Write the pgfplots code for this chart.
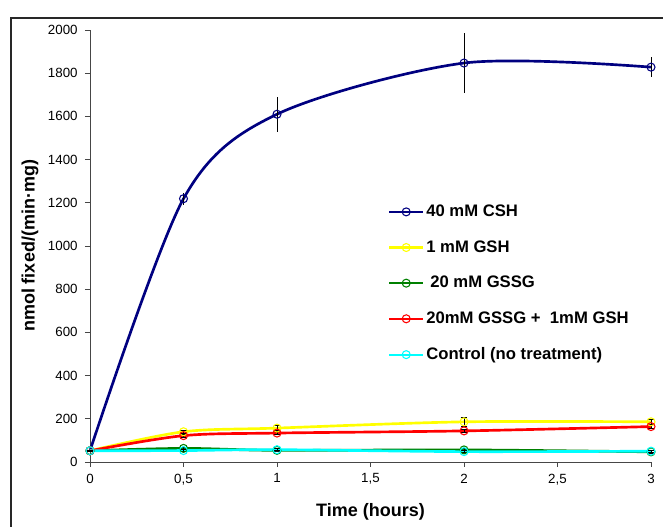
\documentclass[border=0pt]{standalone}
\usepackage{fontspec}
\setmainfont{Liberation Sans}
\usepackage{pgfplots}
\usepackage{pgfplotstable}
\pgfplotsset{compat=1.18}

\definecolor{cshblue}{RGB}{0,0,128}
\definecolor{gshyellow}{RGB}{255,255,0}
\definecolor{gssggreen}{RGB}{0,128,0}
\definecolor{mixred}{RGB}{255,0,0}
\definecolor{ctrlcyan}{RGB}{0,255,255}
\definecolor{framegray}{RGB}{40,40,40}
\definecolor{axisgray}{RGB}{70,70,70}

% time (h), rate, standard deviation
\pgfplotstableread{
x    y     e
0    52    4
0.5  1219  28
1    1610  80
2    1847  140
3    1828  47
}\csh
\pgfplotstableread{
x    y     e
0    52    4
0.5  140   8
1    157   12
2    186   20
3    186   10
}\gsh
\pgfplotstableread{
x    y     e
0    52    4
0.5  63    5
1    54    5
2    56    5
3    47    5
}\gssg
\pgfplotstableread{
x    y     e
0    52    4
0.5  122   8
1    134   8
2    144   8
3    164   8
}\mix
\pgfplotstableread{
x    y     e
0    52    4
0.5  53    5
1    57    5
2    48    5
3    50    5
}\ctrl

\begin{document}
\begin{tikzpicture}
\useasboundingbox (-67.5pt,-48.75pt) rectangle (429.75pt,346.5pt);
% outer chart frame
\draw[framegray, line width=1.1pt] (-59.25pt,-80pt) -- (-59.25pt,333pt) -- (480pt,333pt);
\begin{axis}[
  at={(0,0)}, anchor=origin,
  scale only axis,
  width=420.75pt, height=324pt,
  xmin=0, xmax=3, ymin=0, ymax=2000,
  clip=false,
  axis x line*=bottom, axis y line*=left,
  axis line style={-, axisgray, line width=0.7pt},
  tick style={axisgray, line width=0.7pt},
  tick align=outside,
  major tick length=3.75pt,
  xtick={0,0.5,1,1.5,2,2.5,3},
  xticklabels={0,{0,5},1,{1,5},2,{2,5},3},
  ytick={0,200,...,2000},
  /pgf/number format/1000 sep={},
  /pgf/number format/assume math mode=true,
  ticklabel style={font=\fontsize{10}{12}\selectfont},
  xticklabel style={yshift=-1.5pt},
  yticklabel style={xshift=-2pt},
  xlabel={Time (hours)},
  ylabel={nmol fixed/(min·mg)},
  label style={font=\fontsize{13.5}{16}\selectfont\bfseries},
  xlabel style={at={(axis description cs:0.5,0)}, anchor=center, yshift=-37.5pt},
  ylabel style={at={(axis description cs:0,0.5)}, anchor=center, yshift=45pt},
  legend style={draw=none, fill=none,
    at={(rel axis cs:0.531,0.600)}, anchor=north west,
    font=\fontsize{12.5}{15}\selectfont\bfseries,
    inner sep=0pt, row sep=13.5pt,
    nodes={inner sep=1.5pt, anchor=west}},
  legend cell align=left,
  legend image code/.code={
    \draw[line width=1.6pt, mark repeat=2, mark phase=2]
      plot coordinates {(0pt,0pt) (12.75pt,0pt) (25.5pt,0pt)};},
  every axis plot/.append style={line width=2pt, smooth, tension=0.5,
    mark=o, mark size=3pt},
]
\addplot[cshblue, mark options={solid, line width=0.8pt},
  error bars/.cd, y dir=both, y explicit,
  error bar style={black, line width=0.6pt}, error mark=none]
  table[x=x, y=y, y error=e] {\csh};
\addlegendentry{40 mM CSH}

\addplot[gshyellow, mark options={solid, line width=0.8pt},
  error bars/.cd, y dir=both, y explicit,
  error bar style={black, line width=0.6pt},
  error mark options={rotate=90, black, mark size=2.5pt, line width=0.6pt}]
  table[x=x, y=y, y error=e] {\gsh};
\addlegendentry{1 mM GSH}

\addplot[gssggreen, mark options={solid, line width=0.8pt},
  error bars/.cd, y dir=both, y explicit,
  error bar style={black, line width=0.6pt},
  error mark options={rotate=90, black, mark size=2.5pt, line width=0.6pt}]
  table[x=x, y=y, y error=e] {\gssg};
\addlegendentry{\hspace{3pt}20 mM GSSG}

\addplot[mixred, mark options={solid, line width=0.8pt},
  error bars/.cd, y dir=both, y explicit,
  error bar style={black, line width=0.6pt},
  error mark options={rotate=90, black, mark size=2.5pt, line width=0.6pt}]
  table[x=x, y=y, y error=e] {\mix};
\addlegendentry{20mM GSSG +\ \ 1mM GSH}

\addplot[ctrlcyan, mark options={solid, line width=0.8pt},
  error bars/.cd, y dir=both, y explicit,
  error bar style={black, line width=0.6pt},
  error mark options={rotate=90, black, mark size=2.5pt, line width=0.6pt}]
  table[x=x, y=y, y error=e] {\ctrl};
\addlegendentry{Control (no treatment)}
\end{axis}
\end{tikzpicture}
\end{document}
